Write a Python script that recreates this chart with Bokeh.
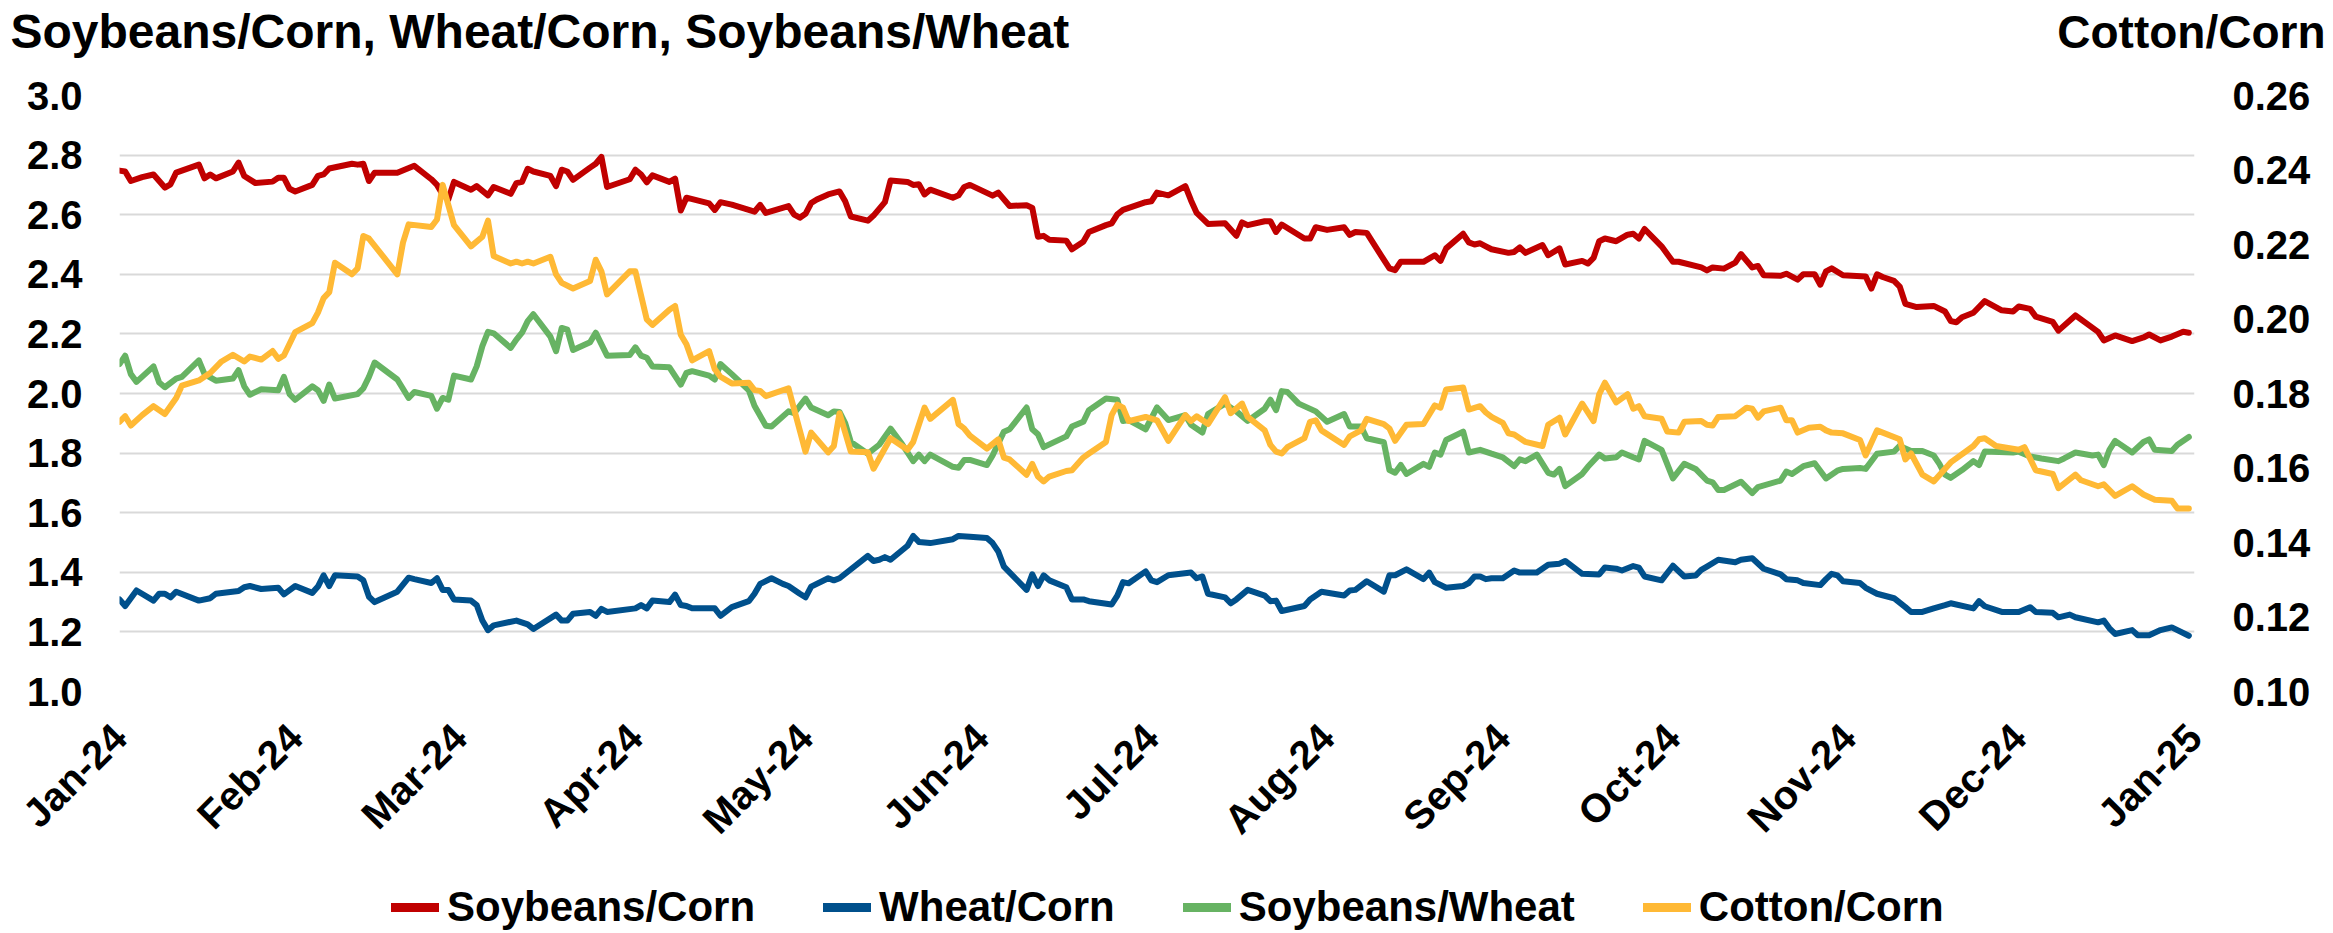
import numpy as np
import pandas as pd
from bokeh.plotting import figure
from bokeh.layouts import column
from bokeh.models import (Range1d, LinearAxis, FixedTicker, PrintfTickFormatter,
                          Legend, LegendItem, Label)
from bokeh.embed import file_html
from bokeh.resources import INLINE

FONT = "Liberation Sans"
START = pd.Timestamp("2024-01-01")

# ---- data (days counted from 2024-01-01) ----
soy_corn_days = [0,1,2,4,6,7,8,9,10,14,15,16,17,20,21,22,24,27,28,29,30,31,34,35,36,37,41,42,43,44,45,49,52,55,56,57,58,59,62,63,65,66,69,70,71,72,73,76,77,78,79,80,83,84,85,86,90,91,92,93,94,97,98,99,100,104,105,106,108,112,113,114,118,119,120,121,122,123,125,127,128,129,132,133,135,136,139,140,141,142,143,147,148,149,150,154,155,157,160,161,162,163,164,167,168,170,171,174,175,176,177,181,182,183,185,188,189,190,192,195,197,198,199,202,203,204,205,209,210,211,213,216,217,218,220,223,224,225,226,230,232,233,234,237,238,239,240,241,242,245,246,247,248,251,252,254,255,258,259,260,261,262,264,266,267,268,269,272,274,275,279,280,281,283,285,286,288,289,290,293,294,296,297,299,300,301,302,304,308,309,310,311,313,314,315,317,320,322,323,324,325,327,329,332,334,335,337,338,341,342,345,349,350,352,355,357,358,360,362,364,365]
soy_corn = [2.748,2.745,2.713,2.726,2.735,2.713,2.691,2.702,2.741,2.768,2.722,2.735,2.722,2.745,2.775,2.730,2.706,2.711,2.724,2.724,2.687,2.678,2.700,2.730,2.735,2.755,2.771,2.768,2.771,2.713,2.741,2.741,2.764,2.719,2.700,2.668,2.652,2.710,2.684,2.696,2.665,2.693,2.670,2.706,2.710,2.754,2.745,2.730,2.696,2.751,2.745,2.717,2.758,2.771,2.794,2.693,2.719,2.751,2.735,2.709,2.732,2.710,2.721,2.614,2.657,2.638,2.616,2.642,2.634,2.610,2.633,2.606,2.629,2.600,2.590,2.603,2.639,2.651,2.668,2.678,2.645,2.594,2.580,2.597,2.642,2.715,2.710,2.700,2.702,2.668,2.684,2.657,2.665,2.693,2.700,2.664,2.674,2.629,2.632,2.623,2.526,2.529,2.516,2.513,2.484,2.509,2.542,2.565,2.571,2.601,2.616,2.642,2.645,2.674,2.665,2.696,2.648,2.606,2.569,2.571,2.529,2.574,2.565,2.578,2.578,2.542,2.567,2.520,2.520,2.558,2.549,2.558,2.532,2.542,2.539,2.449,2.420,2.414,2.442,2.442,2.464,2.445,2.487,2.536,2.507,2.500,2.504,2.494,2.484,2.472,2.475,2.490,2.472,2.498,2.464,2.487,2.433,2.445,2.436,2.455,2.511,2.520,2.511,2.533,2.536,2.520,2.552,2.494,2.442,2.442,2.423,2.413,2.423,2.419,2.439,2.468,2.423,2.428,2.397,2.395,2.402,2.382,2.400,2.400,2.365,2.410,2.420,2.397,2.393,2.352,2.400,2.391,2.378,2.359,2.301,2.290,2.294,2.275,2.243,2.239,2.256,2.271,2.310,2.279,2.275,2.292,2.284,2.258,2.240,2.211,2.262,2.207,2.178,2.195,2.176,2.188,2.198,2.178,2.191,2.207,2.204]

wheat_corn_days = [0,1,3,6,7,8,9,10,14,16,17,21,22,23,25,28,29,31,34,35,36,37,38,42,43,44,45,49,51,52,55,56,57,58,59,62,63,64,65,66,70,72,73,77,78,79,80,83,84,85,86,91,92,93,94,97,98,99,100,101,105,106,108,111,112,113,115,117,118,120,121,122,125,126,127,132,133,134,135,136,139,140,141,143,147,148,150,153,154,155,156,160,161,162,163,164,167,168,170,171,175,176,177,178,181,182,183,185,189,190,191,192,195,196,197,199,202,203,204,205,209,210,212,216,217,218,220,223,224,225,227,230,231,232,234,237,238,239,240,241,242,244,246,247,250,252,254,255,258,261,262,264,265,267,268,269,272,274,276,278,279,280,282,285,286,288,290,293,294,296,297,300,301,302,303,304,307,308,310,313,315,316,318,320,322,323,327,328,329,332,335,337,338,341,342,344,345,349,350,351,352,355,356,358,360,362,365]
wheat_corn = [1.309,1.287,1.339,1.305,1.328,1.328,1.316,1.335,1.305,1.313,1.328,1.337,1.350,1.354,1.344,1.348,1.326,1.354,1.331,1.352,1.390,1.354,1.390,1.386,1.373,1.318,1.300,1.335,1.382,1.377,1.364,1.380,1.341,1.341,1.309,1.305,1.290,1.238,1.206,1.222,1.238,1.225,1.210,1.258,1.238,1.238,1.261,1.267,1.254,1.277,1.267,1.279,1.290,1.279,1.305,1.300,1.325,1.290,1.287,1.279,1.279,1.254,1.283,1.303,1.328,1.361,1.380,1.361,1.354,1.328,1.316,1.352,1.380,1.373,1.380,1.455,1.438,1.442,1.451,1.442,1.489,1.522,1.502,1.498,1.511,1.522,1.519,1.515,1.498,1.470,1.419,1.341,1.393,1.354,1.390,1.373,1.350,1.309,1.309,1.303,1.292,1.322,1.367,1.363,1.403,1.373,1.367,1.390,1.399,1.380,1.386,1.328,1.316,1.296,1.309,1.341,1.322,1.303,1.305,1.270,1.287,1.309,1.335,1.322,1.339,1.341,1.370,1.335,1.390,1.390,1.410,1.377,1.399,1.367,1.348,1.354,1.364,1.386,1.386,1.377,1.380,1.380,1.406,1.399,1.399,1.425,1.429,1.438,1.395,1.393,1.416,1.412,1.406,1.421,1.416,1.386,1.373,1.422,1.386,1.389,1.408,1.419,1.442,1.434,1.442,1.447,1.412,1.393,1.377,1.373,1.364,1.357,1.377,1.395,1.390,1.370,1.364,1.348,1.328,1.313,1.283,1.267,1.267,1.279,1.290,1.296,1.279,1.303,1.286,1.267,1.267,1.283,1.267,1.264,1.249,1.258,1.249,1.232,1.238,1.212,1.193,1.206,1.189,1.189,1.206,1.215,1.187]

soy_wheat_days = [0,1,2,3,6,7,8,10,11,14,15,17,20,21,22,23,25,28,29,30,31,34,35,36,37,38,42,43,44,45,49,51,52,55,56,57,58,59,62,63,64,65,66,69,70,71,72,73,76,77,78,79,80,83,84,85,86,90,91,92,93,94,97,99,100,101,104,105,106,108,111,112,114,115,118,119,121,122,125,126,127,128,129,132,134,136,138,140,141,142,143,147,148,149,150,153,154,156,157,160,161,162,163,167,168,170,171,174,176,177,178,181,183,185,188,189,191,192,195,197,199,202,203,204,205,206,208,211,213,216,217,219,220,223,224,225,226,227,230,231,232,233,234,237,238,240,242,244,246,247,248,250,252,253,254,255,258,259,261,262,264,265,267,268,269,272,274,276,278,280,281,282,283,286,288,289,293,294,295,297,299,301,303,304,307,308,310,313,314,316,318,320,321,322,323,325,327,328,329,334,335,337,339,342,343,345,348,349,350,351,352,355,357,358,359,362,363,365]
soy_wheat = [2.099,2.127,2.065,2.039,2.091,2.037,2.021,2.050,2.056,2.111,2.065,2.043,2.050,2.078,2.024,1.996,2.014,2.011,2.056,1.998,1.979,2.024,2.011,1.975,2.030,1.983,1.998,2.017,2.056,2.104,2.047,1.985,2.005,1.992,1.949,1.985,1.979,2.060,2.047,2.091,2.159,2.207,2.202,2.153,2.181,2.204,2.243,2.266,2.191,2.142,2.220,2.214,2.146,2.172,2.204,2.166,2.127,2.129,2.155,2.127,2.120,2.091,2.088,2.030,2.069,2.075,2.060,2.047,2.099,2.065,2.011,1.959,1.892,1.889,1.940,1.934,1.983,1.953,1.927,1.940,1.938,1.901,1.837,1.798,1.828,1.882,1.831,1.773,1.795,1.773,1.795,1.754,1.751,1.777,1.777,1.760,1.792,1.872,1.880,1.953,1.880,1.863,1.820,1.856,1.889,1.905,1.944,1.983,1.979,1.908,1.911,1.880,1.953,1.911,1.927,1.895,1.869,1.931,1.966,1.940,1.908,1.949,1.979,1.944,2.008,2.005,1.966,1.940,1.905,1.931,1.889,1.889,1.850,1.837,1.743,1.734,1.760,1.730,1.764,1.754,1.802,1.795,1.844,1.872,1.802,1.811,1.798,1.786,1.756,1.779,1.773,1.795,1.734,1.728,1.747,1.689,1.730,1.754,1.795,1.782,1.786,1.802,1.786,1.779,1.841,1.811,1.715,1.764,1.747,1.708,1.702,1.676,1.676,1.704,1.666,1.686,1.708,1.738,1.730,1.756,1.766,1.715,1.741,1.747,1.750,1.747,1.798,1.805,1.824,1.807,1.807,1.792,1.764,1.728,1.717,1.743,1.773,1.760,1.805,1.802,1.805,1.789,1.782,1.773,1.782,1.802,1.792,1.795,1.760,1.811,1.841,1.802,1.837,1.846,1.811,1.807,1.828,1.854]

cotton_corn_days = [0,1,2,4,6,8,10,11,14,16,18,20,22,23,25,27,28,29,31,34,35,36,37,38,41,42,43,44,49,50,51,55,56,57,59,62,64,65,66,69,70,71,72,73,76,77,78,80,83,84,85,86,90,91,93,94,97,98,99,100,101,104,105,106,108,111,112,113,114,118,121,122,125,126,127,129,132,133,136,139,140,142,143,147,148,149,150,153,155,156,157,160,161,162,163,164,167,168,170,171,174,175,176,177,178,181,183,185,188,189,190,192,195,196,198,199,202,203,204,205,206,209,210,211,212,216,217,219,220,223,224,225,227,230,232,233,234,237,238,240,241,242,244,245,246,248,251,252,254,255,258,260,261,262,264,266,267,268,269,272,273,275,276,279,280,281,282,285,287,288,289,290,293,294,295,296,298,300,301,302,304,307,308,310,314,315,316,318,320,323,327,328,329,331,335,336,338,341,342,345,346,349,350,352,355,357,359,362,363,365]
cotton_corn = [0.1724,0.1739,0.1714,0.1742,0.1766,0.1745,0.1788,0.1821,0.1835,0.1855,0.1886,0.1904,0.1886,0.1899,0.1891,0.1914,0.1893,0.1902,0.1965,0.1989,0.2017,0.2056,0.2072,0.2151,0.2120,0.2136,0.2223,0.2216,0.2120,0.2205,0.2254,0.2247,0.2267,0.2360,0.2252,0.2195,0.2221,0.2264,0.2169,0.2149,0.2154,0.2149,0.2154,0.2149,0.2167,0.2120,0.2097,0.2082,0.2102,0.2159,0.2128,0.2066,0.2128,0.2128,0.1999,0.1984,0.2025,0.2035,0.1958,0.1932,0.1889,0.1914,0.1865,0.1845,0.1827,0.1829,0.1809,0.1807,0.1793,0.1814,0.1644,0.1695,0.1642,0.1659,0.1747,0.1644,0.1642,0.1598,0.1680,0.1649,0.1670,0.1762,0.1732,0.1783,0.1718,0.1706,0.1687,0.1652,0.1677,0.1628,0.1623,0.1582,0.1611,0.1577,0.1564,0.1577,0.1592,0.1594,0.1628,0.1639,0.1670,0.1742,0.1770,0.1762,0.1726,0.1737,0.1728,0.1673,0.1742,0.1726,0.1739,0.1718,0.1790,0.1747,0.1773,0.1737,0.1701,0.1662,0.1644,0.1639,0.1656,0.1680,0.1724,0.1728,0.1701,0.1662,0.1685,0.1701,0.1732,0.1718,0.1706,0.1673,0.1716,0.1718,0.1768,0.1762,0.1811,0.1816,0.1757,0.1766,0.1749,0.1737,0.1721,0.1693,0.1690,0.1670,0.1659,0.1716,0.1735,0.1690,0.1773,0.1726,0.1798,0.1829,0.1776,0.1798,0.1759,0.1766,0.1739,0.1732,0.1698,0.1695,0.1724,0.1726,0.1716,0.1714,0.1737,0.1739,0.1762,0.1759,0.1735,0.1752,0.1762,0.1728,0.1728,0.1695,0.1708,0.1711,0.1701,0.1695,0.1693,0.1675,0.1634,0.1701,0.1677,0.1623,0.1639,0.1582,0.1564,0.1615,0.1659,0.1677,0.1680,0.1659,0.1649,0.1656,0.1594,0.1584,0.1546,0.1582,0.1567,0.1551,0.1556,0.1525,0.1551,0.1529,0.1515,0.1512,0.1491,0.1491]

series_names = ["Soybeans/Corn", "Wheat/Corn", "Soybeans/Wheat", "Cotton/Corn"]
series_colors = ["#C00000", "#00508C", "#67B363", "#FFB935"]
month_labels = ["Jan-24", "Feb-24", "Mar-24", "Apr-24", "May-24", "Jun-24", "Jul-24",
                "Aug-24", "Sep-24", "Oct-24", "Nov-24", "Dec-24", "Jan-25"]
left_ticks = [1.0, 1.2, 1.4, 1.6, 1.8, 2.0, 2.2, 2.4, 2.6, 2.8, 3.0]
right_ticks = [0.10, 0.12, 0.14, 0.16, 0.18, 0.20, 0.22, 0.24, 0.26]
left_title = "Soybeans/Corn, Wheat/Corn, Soybeans/Wheat"
right_title = "Cotton/Corn"


def to_dates(days):
    return START + pd.to_timedelta(np.asarray(days), unit="D")


month_ticks = pd.date_range("2024-01-01", periods=len(month_labels), freq="MS")
tick_ms = [int(t.value // 10**6) for t in month_ticks]

W = 2333
HEAD_H, MAIN_H, FOOT_H = 72, 788, 73
TITLE_MID = 31   # vertical middle of the title text, px from the top of the page


def bare(height):
    f = figure(width=W, height=height, output_backend="svg", toolbar_location=None,
               title=None,
               x_range=Range1d(0, W), y_range=Range1d(0, height),
               x_axis_location=None, y_axis_location=None,
               min_border_left=0, min_border_right=0, min_border_top=0, min_border_bottom=0,
               frame_align=False)
    f.outline_line_color = None
    f.grid.visible = False
    return f


# ---- header with the two axis titles ----
head = bare(HEAD_H)
head.add_layout(Label(x=10, y=HEAD_H - TITLE_MID, x_units="screen", y_units="screen",
                      text=left_title, text_font=FONT, text_font_style="bold",
                      text_font_size="48px", text_color="black", text_align="left",
                      text_baseline="middle"))
head.add_layout(Label(x=W - 8, y=HEAD_H - TITLE_MID, x_units="screen", y_units="screen",
                      text=right_title, text_font=FONT, text_font_style="bold",
                      text_font_size="46px", text_color="black", text_align="right",
                      text_baseline="middle"))

# ---- main chart ----
p = figure(width=W, height=MAIN_H, x_axis_type="datetime", output_backend="svg",
           toolbar_location=None, frame_align=False,
           x_range=Range1d(tick_ms[0], tick_ms[-1]),
           y_range=Range1d(left_ticks[0], left_ticks[-1]),
           min_border_left=119, min_border_right=W - 2194,
           min_border_top=95 - HEAD_H, min_border_bottom=(HEAD_H + MAIN_H) - 699)
p.extra_y_ranges = {"cc": Range1d(right_ticks[0], right_ticks[-1])}
p.outline_line_color = None

p.xaxis.ticker = FixedTicker(ticks=tick_ms)
p.xaxis.major_label_overrides = {t: lab for t, lab in zip(tick_ms, month_labels)}
p.xaxis.major_label_orientation = np.pi / 4
p.yaxis.ticker = FixedTicker(ticks=left_ticks)
p.yaxis.formatter = PrintfTickFormatter(format="%.1f")

raxis = LinearAxis(y_range_name="cc", ticker=FixedTicker(ticks=right_ticks),
                   formatter=PrintfTickFormatter(format="%.2f"))
p.add_layout(raxis, "right")

for ax in [p.xaxis[0], p.yaxis[0], raxis]:
    ax.axis_line_color = None
    ax.major_tick_line_color = None
    ax.minor_tick_line_color = None
    ax.major_tick_out = 0
    ax.major_tick_in = 0
    ax.minor_tick_out = 0
    ax.major_label_text_font = FONT
    ax.major_label_text_font_style = "bold"
    ax.major_label_text_font_size = "40px"
    ax.major_label_text_color = "black"
p.yaxis[0].major_label_standoff = 37
raxis.major_label_standoff = 38
p.xaxis[0].major_label_standoff = 39

p.xgrid.visible = False
p.ygrid.grid_line_color = "#D9D9D9"
p.ygrid.grid_line_width = 2

all_days = [soy_corn_days, wheat_corn_days, soy_wheat_days, cotton_corn_days]
all_vals = [soy_corn, wheat_corn, soy_wheat, cotton_corn]
for i, (d, v) in enumerate(zip(all_days, all_vals)):
    kw = {"y_range_name": "cc"} if i == 3 else {}
    p.line(x=to_dates(d), y=v, line_color=series_colors[i], line_width=6,
           line_join="round", line_cap="round", **kw)

# ---- footer with the legend (proxy strokes kept outside the visible range) ----
foot = bare(FOOT_H)
items = []
for name, col in zip(series_names, series_colors):
    r = foot.line(x=[-200, -100], y=[-200, -200], line_color=col, line_width=9,
                  line_cap="round")
    items.append(LegendItem(label=name, renderers=[r]))
legend = Legend(items=items, orientation="horizontal", location=(391, 2),
                glyph_width=48, glyph_height=44, label_height=44,
                label_standoff=8, spacing=68, padding=0, margin=0,
                border_line_color=None, background_fill_alpha=0,
                label_text_font=FONT, label_text_font_style="bold",
                label_text_font_size="42px", label_text_color="black")
foot.add_layout(legend, "center")

layout = column(head, p, foot, spacing=0)
open("out.html", "w").write(file_html(layout, INLINE))
